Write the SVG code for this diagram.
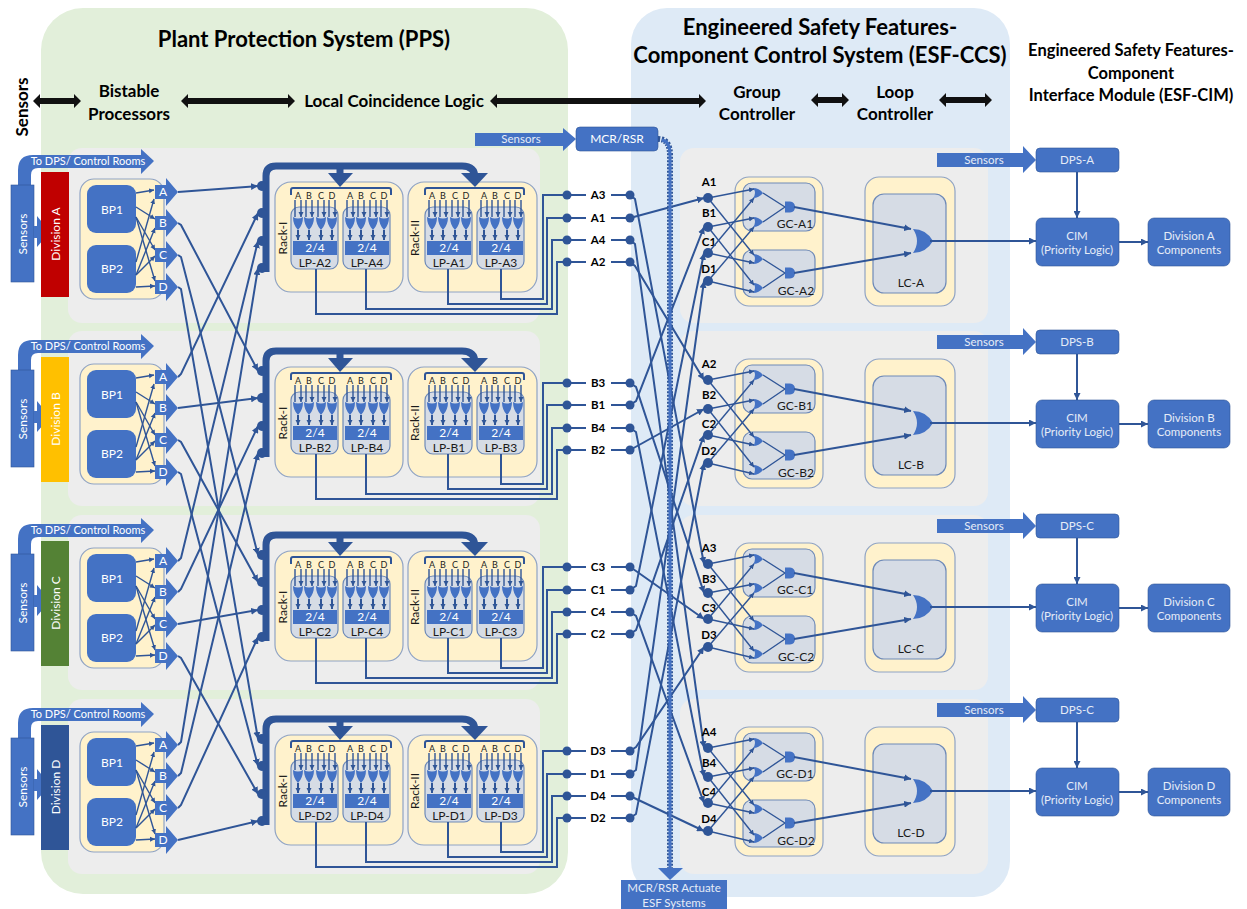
<svg xmlns="http://www.w3.org/2000/svg" xmlns:xlink="http://www.w3.org/1999/xlink" width="1247" height="909" viewBox="0 0 1247 909">
<style>
text{font-family:Lato,"Liberation Sans",sans-serif;text-anchor:middle;fill:#000}
.h1{font-size:22px;font-weight:700}
.h2{font-size:17px;font-weight:700}
.h3{font-size:16.5px;font-weight:700}
.w{fill:#fff;font-size:12px}
.td{fill:#fff;font-size:11px}
.wm{fill:#e6ecf7;font-size:11.5px}
.l{font-size:12px;fill:#1a1a1a}
.n{font-size:9px;fill:#222}
.b{font-size:11.5px;font-weight:700}
.y{fill:#FFF2CC;stroke:#8FA3C4;stroke-width:1.2}
.g{fill:#D6DCE5;stroke:#6E8AB8;stroke-width:1.2}
.p{fill:#EDEDED}
.f{fill:#4472C4}
.fs{fill:#4472C4;stroke:#2F5597;stroke-width:.6}
.d{fill:#2F5597}
.c{fill:none;stroke:#2F5597;stroke-width:2}
.t{fill:none;stroke:#2F5597;stroke-width:1.4}
.k{fill:#111}
</style>
<defs>
<marker id="a" viewBox="0 0 6 6" refX="6" refY="3" markerWidth="7" markerHeight="7" markerUnits="userSpaceOnUse" orient="auto"><path d="M0 0L6 3L0 6Z" fill="#2F5597"/></marker>
<marker id="s" viewBox="0 0 6 6" refX="6" refY="3" markerWidth="5" markerHeight="6" markerUnits="userSpaceOnUse" orient="auto"><path d="M0 0L6 3L0 6Z" fill="#2F5597"/></marker>
<polygon id="out" class="f" points="-23,-7 -12,-7 -12,-14 0,0 -12,14 -12,7 -23,7"/>
<g id="lg">
<path class="t" d="M-3-7V10M3-7V10" marker-end="url(#s)"/>
<path class="f" d="M-5 10Q0 13 5 10Q5 18 0 23Q-5 18-5 10Z"/>
<path class="c" d="M0 23V33" marker-end="url(#s)"/>
</g>
<g id="lp">
<rect width="47" height="62" rx="8" class="g"/>
<rect x="2" y="34" width="44" height="14" class="f"/>
<use xlink:href="#lg" href="#lg" x="7"/><use xlink:href="#lg" href="#lg" x="18"/><use xlink:href="#lg" href="#lg" x="30"/><use xlink:href="#lg" href="#lg" x="41"/>
</g>
<g id="racks">
<rect x="275" y="182" width="128" height="110" rx="16" class="y"/>
<rect x="408" y="182" width="129" height="110" rx="16" class="y"/>
<path d="M291 195V190Q291 188 293 188H389Q391 188 391 190V195M425 195V190Q425 188 427 188H522Q524 188 524 190V195" fill="none" stroke="#2F5597" stroke-width="2"/>
<path d="M266 272V176Q266 166 276 166H462Q475 166 475 178" fill="none" stroke="#2F5597" stroke-width="7"/>
<path d="M340 166V175" fill="none" stroke="#2F5597" stroke-width="7"/>
<polygon class="d" points="328,173 353,173 340,187"/>
<polygon class="d" points="461,173 488,173 475,187"/>
<circle class="d" cx="262" cy="186" r="5"/><circle class="d" cx="262" cy="213" r="5"/><circle class="d" cx="262" cy="241" r="5"/><circle class="d" cx="262" cy="268" r="5"/>
</g>
<g id="bpbox">
<rect x="80" y="179" width="84" height="120" rx="14" class="y"/>
<rect x="87" y="185" width="49" height="48" rx="9" class="f"/>
<rect x="87" y="245" width="49" height="48" rx="9" class="f"/>
<path class="t" d="M136 193L154 190" marker-end="url(#s)"/><path class="t" d="M136 207L155 219" marker-end="url(#s)"/><path class="t" d="M136 217L155 250" marker-end="url(#s)"/><path class="t" d="M136 217L155 281" marker-end="url(#s)"/>
<path class="t" d="M136 262L154 199" marker-end="url(#s)"/><path class="t" d="M136 275L155 228" marker-end="url(#s)"/><path class="t" d="M136 275L155 256" marker-end="url(#s)"/><path class="t" d="M136 287L155 286" marker-end="url(#s)"/>
<use xlink:href="#out" href="#out" x="178" y="192"/><use xlink:href="#out" href="#out" x="178" y="223"/><use xlink:href="#out" href="#out" x="178" y="255"/><use xlink:href="#out" href="#out" x="178" y="287"/>
</g>
<g id="sens">
<path class="f" d="M18 186V170Q18 155 33 155H141V149L154 161L141 174V168H38Q31 168 31 175V186Z"/>
<rect x="11" y="185" width="23" height="97" class="f" stroke="#2F5597" stroke-width=".6"/>
<polygon class="f" points="34,226 37,226 37,216 50,232 37,247 37,238 34,238"/>
</g>
<g id="esfbox">
<rect x="735" y="177" width="88" height="129" rx="14" class="y"/>
<rect x="743" y="183" width="72" height="48" rx="9" class="g"/>
<rect x="743" y="250" width="72" height="47" rx="9" class="g"/>
<rect x="865" y="177" width="90" height="129" rx="14" class="y"/>
<rect x="873" y="194" width="73" height="99" rx="11" class="g"/>
</g>
<g id="gates">
<path class="f" d="M753 188Q759 188 763 193Q759 198 753 198Q757 193 753 188Z"/>
<path class="f" d="M753 217Q759 217 763 222Q759 227 753 227Q757 222 753 217Z"/>
<path class="f" d="M753 254Q759 254 763 259Q759 264 753 264Q757 259 753 254Z"/>
<path class="f" d="M753 283Q759 283 763 288Q759 293 753 293Q757 288 753 283Z"/>
<path class="f" d="M785 201.500H790Q795 202 795 207Q795 212 790 212.500H785Z"/>
<path class="f" d="M785 267.500H790Q795 268 795 273Q795 278 790 278.500H785Z"/>
<path class="f" d="M913 229Q926 229 933 241Q926 253 913 253Q921 241 913 229Z"/>
</g>
<g id="gcw">
<path class="t" d="M708 198L754 189" marker-end="url(#s)"/><path class="t" d="M708 198L754 255" marker-end="url(#s)"/>
<path class="t" d="M708 227L754 218" marker-end="url(#s)"/><path class="t" d="M708 227L754 285" marker-end="url(#s)"/>
<path class="t" d="M708 253L754 198" marker-end="url(#s)"/><path class="t" d="M708 253L754 263" marker-end="url(#s)"/>
<path class="t" d="M708 281L754 227" marker-end="url(#s)"/><path class="t" d="M708 281L754 292" marker-end="url(#s)"/>
<path class="t" d="M763 193L785 207M763 222L785 207M763 259L785 273M763 288L785 273"/>
<path class="c" d="M794 207L911 229" marker-end="url(#a)"/><path class="c" d="M794 273L911 253" marker-end="url(#a)"/>
<path class="c" d="M930 241H1036" marker-end="url(#a)"/>
<path class="c" d="M1119 242H1148" marker-end="url(#a)"/>
<path class="c" d="M1077 172V218" stroke-width="2.400" marker-end="url(#a)"/>
</g>
<g id="cimbox">
<polygon class="f" points="937,153 1023,153 1023,146 1036,160 1023,173 1023,167 937,167"/>
<rect x="1036" y="148" width="83" height="24" rx="4" class="fs"/>
<rect x="1036" y="218" width="83" height="48" rx="6" class="fs"/>
<rect x="1148" y="218" width="82" height="48" rx="6" class="fs"/>
</g>
</defs>
<rect width="1247" height="909" fill="#fff"/>
<g id="regions">
<rect x="41" y="8" width="527" height="886" rx="42" fill="#E2EFDA"/>
<rect x="631" y="8" width="379" height="889" rx="36" fill="#DEEAF6"/>
<rect class="p" x="68" y="148" width="472" height="175" rx="14"/>
<rect class="p" x="68" y="331" width="472" height="175" rx="14"/>
<rect class="p" x="68" y="515" width="472" height="175" rx="14"/>
<rect class="p" x="68" y="699" width="472" height="175" rx="14"/>
<rect class="p" x="680" y="148" width="308" height="175" rx="14"/>
<rect class="p" x="680" y="331" width="308" height="175" rx="14"/>
<rect class="p" x="680" y="515" width="308" height="175" rx="14"/>
<rect class="p" x="680" y="699" width="308" height="175" rx="14"/>
</g>
<g id="headers">
<text class="h1" x="304" y="47">Plant Protection System (PPS)</text>
<text class="h1" x="820" y="35">Engineered Safety Features-</text>
<text class="h1" x="820" y="63">Component Control System (ESF-CCS)</text>
<text class="h3" x="1131" y="56">Engineered Safety Features-</text>
<text class="h3" x="1131" y="79">Component</text>
<text class="h3" x="1131" y="101">Interface Module (ESF-CIM)</text>
<text class="h2" transform="translate(28,107) rotate(-90)">Sensors</text>
<text class="h2" x="129" y="97">Bistable</text>
<text class="h2" x="129" y="120">Processors</text>
<text class="h2" x="394" y="107">Local Coincidence Logic</text>
<text class="h2" x="757" y="98">Group</text>
<text class="h2" x="757" y="120">Controller</text>
<text class="h2" x="895" y="98">Loop</text>
<text class="h2" x="895" y="120">Controller</text>
<polygon class="k" points="33,101 40,94 40,98 74,98 74,94 81,101 74,108 74,104 40,104 40,108"/>
<polygon class="k" points="181,101 188,94 188,98 288,98 288,94 295,101 288,108 288,104 188,104 188,108"/>
<polygon class="k" points="490,101 497,94 497,98 699,98 699,94 706,101 699,108 699,104 497,104 497,108"/>
<polygon class="k" points="811,100 818,93 818,97 842,97 842,93 849,100 842,107 842,103 818,103 818,107"/>
<polygon class="k" points="939,100 946,93 946,97 985,97 985,93 992,100 985,107 985,103 946,103 946,107"/>
</g>
<g id="connectors">
<path class="c" d="M178 192L258 186" marker-end="url(#a)"/>
<path class="c" d="M178 223L181 225L258 371" marker-end="url(#a)"/>
<path class="c" d="M178 255L181 257L258 555" marker-end="url(#a)"/>
<path class="c" d="M178 287L181 289L258 739" marker-end="url(#a)"/>
<path class="c" d="M178 377L181 374L258 213" marker-end="url(#a)"/>
<path class="c" d="M178 408L258 398" marker-end="url(#a)"/>
<path class="c" d="M178 440L181 442L258 582" marker-end="url(#a)"/>
<path class="c" d="M178 472L181 474L258 766" marker-end="url(#a)"/>
<path class="c" d="M178 561L181 558L258 241" marker-end="url(#a)"/>
<path class="c" d="M178 592L181 589L258 426" marker-end="url(#a)"/>
<path class="c" d="M178 624L258 610" marker-end="url(#a)"/>
<path class="c" d="M178 656L181 658L258 794" marker-end="url(#a)"/>
<path class="c" d="M178 745L181 742L258 268" marker-end="url(#a)"/>
<path class="c" d="M178 776L181 773L258 453" marker-end="url(#a)"/>
<path class="c" d="M178 808L181 805L258 637" marker-end="url(#a)"/>
<path class="c" d="M178 840L258 821" marker-end="url(#a)"/>
<path class="c" d="M567 195H586M611 195H630M567 218H586M611 218H630M567 240H586M611 240H630M567 262H586M611 262H630"/>
<path class="c" d="M567 383H586M611 383H630M567 405H586M611 405H630M567 428H586M611 428H630M567 450H586M611 450H630"/>
<path class="c" d="M567 567H586M611 567H630M567 590H586M611 590H630M567 612H586M611 612H630M567 634H586M611 634H630"/>
<path class="c" d="M567 751H586M611 751H630M567 774H586M611 774H630M567 796H586M611 796H630M567 818H586M611 818H630"/>
<path class="c" d="M630 195L635 199L704 564" marker-end="url(#a)"/>
<path class="c" d="M630 218L704 198" marker-end="url(#a)"/>
<path class="c" d="M630 240L635 244L704 748" marker-end="url(#a)"/>
<path class="c" d="M630 262L635 266L704 380" marker-end="url(#a)"/>
<path class="c" d="M630 383L636 387L704 593" marker-end="url(#a)"/>
<path class="c" d="M630 405L636 401L704 227" marker-end="url(#a)"/>
<path class="c" d="M630 428L636 432L704 777" marker-end="url(#a)"/>
<path class="c" d="M630 450L704 409" marker-end="url(#a)"/>
<path class="c" d="M630 567L636 571L704 619" marker-end="url(#a)"/>
<path class="c" d="M630 590L636 586L704 253" marker-end="url(#a)"/>
<path class="c" d="M630 612L636 616L704 803" marker-end="url(#a)"/>
<path class="c" d="M630 634L636 630L704 435" marker-end="url(#a)"/>
<path class="c" d="M630 751L636 747L704 647" marker-end="url(#a)"/>
<path class="c" d="M630 774L636 770L704 281" marker-end="url(#a)"/>
<path class="c" d="M630 796L704 831" marker-end="url(#a)"/>
<path class="c" d="M630 818L636 814L704 463" marker-end="url(#a)"/>
<path d="M658 139Q670 139 670 155V870" fill="none" stroke="#2F5597" stroke-width="6" stroke-dasharray="2 1.500"/>
<path d="M662 140Q670 141 670 155V870" fill="none" stroke="#4472C4" stroke-width="3"/>
<polygon class="f" points="658,868 683,868 670,880"/>
</g>
<g id="mcr">
<polygon class="f" points="475,133 563,133 563,128 576,139 563,151 563,146 475,146"/>
<text class="wm" x="521" y="143">Sensors</text>
<rect x="576" y="127" width="82" height="24" rx="4" class="fs"/>
<text class="w" x="617" y="143">MCR/RSR</text>
</g>
<g id="mcr-actuate">
<rect x="621" y="880" width="106" height="29" class="f"/>
<text class="wm" x="674" y="892">MCR/RSR Actuate</text>
<text class="wm" x="674" y="907">ESF Systems</text>
</g>
<g id="division-a">
<use xlink:href="#sens" href="#sens"/>
<rect x="41" y="172" width="28" height="125" fill="#C00000"/>
<text class="td" x="88" y="165">To DPS/ Control Rooms</text>
<text class="w" transform="translate(27,234) rotate(-90)">Sensors</text>
<text class="w" transform="translate(60,234) rotate(-90)">Division A</text>
<use xlink:href="#bpbox" href="#bpbox"/>
<text class="w" x="112" y="214">BP1</text><text class="w" x="112" y="273">BP2</text>
<text class="w" x="163" y="196">A</text><text class="w" x="163" y="227">B</text><text class="w" x="163" y="259">C</text><text class="w" x="163" y="291">D</text>
<use xlink:href="#racks" href="#racks"/>
<text class="l" transform="translate(287,238) rotate(-90)">Rack-I</text><text class="l" transform="translate(419,238) rotate(-90)">Rack-II</text>
<g id="lp-a2" transform="translate(291,207)"><use xlink:href="#lp" href="#lp"/><text class="n" x="7" y="-8">A</text><text class="n" x="18" y="-8">B</text><text class="n" x="30" y="-8">C</text><text class="n" x="41" y="-8">D</text><text class="w" x="24" y="45">2/4</text><text class="l" x="24" y="60">LP-A2</text></g>
<g id="lp-a4" transform="translate(343,207)"><use xlink:href="#lp" href="#lp"/><text class="n" x="7" y="-8">A</text><text class="n" x="18" y="-8">B</text><text class="n" x="30" y="-8">C</text><text class="n" x="41" y="-8">D</text><text class="w" x="24" y="45">2/4</text><text class="l" x="24" y="60">LP-A4</text></g>
<g id="lp-a1" transform="translate(425,207)"><use xlink:href="#lp" href="#lp"/><text class="n" x="7" y="-8">A</text><text class="n" x="18" y="-8">B</text><text class="n" x="30" y="-8">C</text><text class="n" x="41" y="-8">D</text><text class="w" x="24" y="45">2/4</text><text class="l" x="24" y="60">LP-A1</text></g>
<g id="lp-a3" transform="translate(477,207)"><use xlink:href="#lp" href="#lp"/><text class="n" x="7" y="-8">A</text><text class="n" x="18" y="-8">B</text><text class="n" x="30" y="-8">C</text><text class="n" x="41" y="-8">D</text><text class="w" x="24" y="45">2/4</text><text class="l" x="24" y="60">LP-A3</text></g>
</g>
<g id="division-b" transform="translate(0,185)">
<use xlink:href="#sens" href="#sens"/>
<rect x="41" y="172" width="28" height="125" fill="#FFC000"/>
<text class="td" x="88" y="165">To DPS/ Control Rooms</text>
<text class="w" transform="translate(27,234) rotate(-90)">Sensors</text>
<text class="w" transform="translate(60,234) rotate(-90)">Division B</text>
<use xlink:href="#bpbox" href="#bpbox"/>
<text class="w" x="112" y="214">BP1</text><text class="w" x="112" y="273">BP2</text>
<text class="w" x="163" y="196">A</text><text class="w" x="163" y="227">B</text><text class="w" x="163" y="259">C</text><text class="w" x="163" y="291">D</text>
<use xlink:href="#racks" href="#racks"/>
<text class="l" transform="translate(287,238) rotate(-90)">Rack-I</text><text class="l" transform="translate(419,238) rotate(-90)">Rack-II</text>
<g id="lp-b2" transform="translate(291,207)"><use xlink:href="#lp" href="#lp"/><text class="n" x="7" y="-8">A</text><text class="n" x="18" y="-8">B</text><text class="n" x="30" y="-8">C</text><text class="n" x="41" y="-8">D</text><text class="w" x="24" y="45">2/4</text><text class="l" x="24" y="60">LP-B2</text></g>
<g id="lp-b4" transform="translate(343,207)"><use xlink:href="#lp" href="#lp"/><text class="n" x="7" y="-8">A</text><text class="n" x="18" y="-8">B</text><text class="n" x="30" y="-8">C</text><text class="n" x="41" y="-8">D</text><text class="w" x="24" y="45">2/4</text><text class="l" x="24" y="60">LP-B4</text></g>
<g id="lp-b1" transform="translate(425,207)"><use xlink:href="#lp" href="#lp"/><text class="n" x="7" y="-8">A</text><text class="n" x="18" y="-8">B</text><text class="n" x="30" y="-8">C</text><text class="n" x="41" y="-8">D</text><text class="w" x="24" y="45">2/4</text><text class="l" x="24" y="60">LP-B1</text></g>
<g id="lp-b3" transform="translate(477,207)"><use xlink:href="#lp" href="#lp"/><text class="n" x="7" y="-8">A</text><text class="n" x="18" y="-8">B</text><text class="n" x="30" y="-8">C</text><text class="n" x="41" y="-8">D</text><text class="w" x="24" y="45">2/4</text><text class="l" x="24" y="60">LP-B3</text></g>
</g>
<g id="division-c" transform="translate(0,369)">
<use xlink:href="#sens" href="#sens"/>
<rect x="41" y="172" width="28" height="125" fill="#548235"/>
<text class="td" x="88" y="165">To DPS/ Control Rooms</text>
<text class="w" transform="translate(27,234) rotate(-90)">Sensors</text>
<text class="w" transform="translate(60,234) rotate(-90)">Division C</text>
<use xlink:href="#bpbox" href="#bpbox"/>
<text class="w" x="112" y="214">BP1</text><text class="w" x="112" y="273">BP2</text>
<text class="w" x="163" y="196">A</text><text class="w" x="163" y="227">B</text><text class="w" x="163" y="259">C</text><text class="w" x="163" y="291">D</text>
<use xlink:href="#racks" href="#racks"/>
<text class="l" transform="translate(287,238) rotate(-90)">Rack-I</text><text class="l" transform="translate(419,238) rotate(-90)">Rack-II</text>
<g id="lp-c2" transform="translate(291,207)"><use xlink:href="#lp" href="#lp"/><text class="n" x="7" y="-8">A</text><text class="n" x="18" y="-8">B</text><text class="n" x="30" y="-8">C</text><text class="n" x="41" y="-8">D</text><text class="w" x="24" y="45">2/4</text><text class="l" x="24" y="60">LP-C2</text></g>
<g id="lp-c4" transform="translate(343,207)"><use xlink:href="#lp" href="#lp"/><text class="n" x="7" y="-8">A</text><text class="n" x="18" y="-8">B</text><text class="n" x="30" y="-8">C</text><text class="n" x="41" y="-8">D</text><text class="w" x="24" y="45">2/4</text><text class="l" x="24" y="60">LP-C4</text></g>
<g id="lp-c1" transform="translate(425,207)"><use xlink:href="#lp" href="#lp"/><text class="n" x="7" y="-8">A</text><text class="n" x="18" y="-8">B</text><text class="n" x="30" y="-8">C</text><text class="n" x="41" y="-8">D</text><text class="w" x="24" y="45">2/4</text><text class="l" x="24" y="60">LP-C1</text></g>
<g id="lp-c3" transform="translate(477,207)"><use xlink:href="#lp" href="#lp"/><text class="n" x="7" y="-8">A</text><text class="n" x="18" y="-8">B</text><text class="n" x="30" y="-8">C</text><text class="n" x="41" y="-8">D</text><text class="w" x="24" y="45">2/4</text><text class="l" x="24" y="60">LP-C3</text></g>
</g>
<g id="division-d" transform="translate(0,553)">
<use xlink:href="#sens" href="#sens"/>
<rect x="41" y="172" width="28" height="125" fill="#2F5597"/>
<text class="td" x="88" y="165">To DPS/ Control Rooms</text>
<text class="w" transform="translate(27,234) rotate(-90)">Sensors</text>
<text class="w" transform="translate(60,234) rotate(-90)">Division D</text>
<use xlink:href="#bpbox" href="#bpbox"/>
<text class="w" x="112" y="214">BP1</text><text class="w" x="112" y="273">BP2</text>
<text class="w" x="163" y="196">A</text><text class="w" x="163" y="227">B</text><text class="w" x="163" y="259">C</text><text class="w" x="163" y="291">D</text>
<use xlink:href="#racks" href="#racks"/>
<text class="l" transform="translate(287,238) rotate(-90)">Rack-I</text><text class="l" transform="translate(419,238) rotate(-90)">Rack-II</text>
<g id="lp-d2" transform="translate(291,207)"><use xlink:href="#lp" href="#lp"/><text class="n" x="7" y="-8">A</text><text class="n" x="18" y="-8">B</text><text class="n" x="30" y="-8">C</text><text class="n" x="41" y="-8">D</text><text class="w" x="24" y="45">2/4</text><text class="l" x="24" y="60">LP-D2</text></g>
<g id="lp-d4" transform="translate(343,207)"><use xlink:href="#lp" href="#lp"/><text class="n" x="7" y="-8">A</text><text class="n" x="18" y="-8">B</text><text class="n" x="30" y="-8">C</text><text class="n" x="41" y="-8">D</text><text class="w" x="24" y="45">2/4</text><text class="l" x="24" y="60">LP-D4</text></g>
<g id="lp-d1" transform="translate(425,207)"><use xlink:href="#lp" href="#lp"/><text class="n" x="7" y="-8">A</text><text class="n" x="18" y="-8">B</text><text class="n" x="30" y="-8">C</text><text class="n" x="41" y="-8">D</text><text class="w" x="24" y="45">2/4</text><text class="l" x="24" y="60">LP-D1</text></g>
<g id="lp-d3" transform="translate(477,207)"><use xlink:href="#lp" href="#lp"/><text class="n" x="7" y="-8">A</text><text class="n" x="18" y="-8">B</text><text class="n" x="30" y="-8">C</text><text class="n" x="41" y="-8">D</text><text class="w" x="24" y="45">2/4</text><text class="l" x="24" y="60">LP-D3</text></g>
</g>
<g id="lp-output-connectors">
<path class="c" d="M501 269V299H543V195H567M448 269V304H547V218H567M366 269V309H552V240H567M316 269V314H557V262H567"/>
<path class="c" d="M501 454V484H543V383H567M448 454V489H547V405H567M366 454V494H552V428H567M316 454V499H557V450H567"/>
<path class="c" d="M501 638V668H543V567H567M448 638V673H547V590H567M366 638V678H552V612H567M316 638V683H557V634H567"/>
<path class="c" d="M501 822V852H543V751H567M448 822V857H547V774H567M366 822V862H552V796H567M316 822V867H557V818H567"/>
</g>
<g id="signals-a" class="d">
<circle cx="567" cy="195" r="4.500"/><circle cx="630" cy="195" r="4.500"/><circle cx="567" cy="218" r="4.500"/><circle cx="630" cy="218" r="4.500"/><circle cx="567" cy="240" r="4.500"/><circle cx="630" cy="240" r="4.500"/><circle cx="567" cy="262" r="4.500"/><circle cx="630" cy="262" r="4.500"/>
<text class="b" x="598" y="199">A3</text><text class="b" x="598" y="222">A1</text><text class="b" x="598" y="244">A4</text><text class="b" x="598" y="266">A2</text>
</g>
<g id="signals-b" class="d">
<circle cx="567" cy="383" r="4.500"/><circle cx="630" cy="383" r="4.500"/><circle cx="567" cy="405" r="4.500"/><circle cx="630" cy="405" r="4.500"/><circle cx="567" cy="428" r="4.500"/><circle cx="630" cy="428" r="4.500"/><circle cx="567" cy="450" r="4.500"/><circle cx="630" cy="450" r="4.500"/>
<text class="b" x="598" y="387">B3</text><text class="b" x="598" y="409">B1</text><text class="b" x="598" y="432">B4</text><text class="b" x="598" y="454">B2</text>
</g>
<g id="signals-c" class="d">
<circle cx="567" cy="567" r="4.500"/><circle cx="630" cy="567" r="4.500"/><circle cx="567" cy="590" r="4.500"/><circle cx="630" cy="590" r="4.500"/><circle cx="567" cy="612" r="4.500"/><circle cx="630" cy="612" r="4.500"/><circle cx="567" cy="634" r="4.500"/><circle cx="630" cy="634" r="4.500"/>
<text class="b" x="598" y="571">C3</text><text class="b" x="598" y="594">C1</text><text class="b" x="598" y="616">C4</text><text class="b" x="598" y="638">C2</text>
</g>
<g id="signals-d" class="d">
<circle cx="567" cy="751" r="4.500"/><circle cx="630" cy="751" r="4.500"/><circle cx="567" cy="774" r="4.500"/><circle cx="630" cy="774" r="4.500"/><circle cx="567" cy="796" r="4.500"/><circle cx="630" cy="796" r="4.500"/><circle cx="567" cy="818" r="4.500"/><circle cx="630" cy="818" r="4.500"/>
<text class="b" x="598" y="755">D3</text><text class="b" x="598" y="778">D1</text><text class="b" x="598" y="800">D4</text><text class="b" x="598" y="822">D2</text>
</g>
<g id="esf-a">
<use xlink:href="#esfbox" href="#esfbox"/>
<use xlink:href="#gates" href="#gates"/>
<g class="d"><circle cx="708" cy="198" r="5"/><circle cx="708" cy="227" r="5"/><circle cx="708" cy="253" r="5"/><circle cx="708" cy="281" r="5"/></g>
<text class="b" x="709" y="186">A1</text><text class="b" x="709" y="217">B1</text><text class="b" x="709" y="246">C1</text><text class="b" x="709" y="273">D1</text>
<text class="l" x="795" y="228">GC-A1</text><text class="l" x="796" y="295">GC-A2</text><text class="l" x="911" y="287">LC-A</text>
</g>
<g id="esf-b" transform="translate(0,182)">
<use xlink:href="#esfbox" href="#esfbox"/>
<use xlink:href="#gates" href="#gates"/>
<g class="d"><circle cx="708" cy="198" r="5"/><circle cx="708" cy="227" r="5"/><circle cx="708" cy="253" r="5"/><circle cx="708" cy="281" r="5"/></g>
<text class="b" x="709" y="186">A2</text><text class="b" x="709" y="217">B2</text><text class="b" x="709" y="246">C2</text><text class="b" x="709" y="273">D2</text>
<text class="l" x="795" y="228">GC-B1</text><text class="l" x="796" y="295">GC-B2</text><text class="l" x="911" y="287">LC-B</text>
</g>
<g id="esf-c" transform="translate(0,366)">
<use xlink:href="#esfbox" href="#esfbox"/>
<use xlink:href="#gates" href="#gates"/>
<g class="d"><circle cx="708" cy="198" r="5"/><circle cx="708" cy="227" r="5"/><circle cx="708" cy="253" r="5"/><circle cx="708" cy="281" r="5"/></g>
<text class="b" x="709" y="186">A3</text><text class="b" x="709" y="217">B3</text><text class="b" x="709" y="246">C3</text><text class="b" x="709" y="273">D3</text>
<text class="l" x="795" y="228">GC-C1</text><text class="l" x="796" y="295">GC-C2</text><text class="l" x="911" y="287">LC-C</text>
</g>
<g id="esf-d" transform="translate(0,550)">
<use xlink:href="#esfbox" href="#esfbox"/>
<use xlink:href="#gates" href="#gates"/>
<g class="d"><circle cx="708" cy="198" r="5"/><circle cx="708" cy="227" r="5"/><circle cx="708" cy="253" r="5"/><circle cx="708" cy="281" r="5"/></g>
<text class="b" x="709" y="186">A4</text><text class="b" x="709" y="217">B4</text><text class="b" x="709" y="246">C4</text><text class="b" x="709" y="273">D4</text>
<text class="l" x="795" y="228">GC-D1</text><text class="l" x="796" y="295">GC-D2</text><text class="l" x="911" y="287">LC-D</text>
</g>
<g id="cim-a">
<use xlink:href="#cimbox" href="#cimbox"/>
<text class="wm" x="984" y="164">Sensors</text><text class="wm" x="1077" y="164">DPS-A</text>
<text class="wm" x="1077" y="240">CIM</text><text class="wm" x="1077" y="254">(Priority Logic)</text>
<text class="wm" x="1189" y="240">Division A</text><text class="wm" x="1189" y="254">Components</text>
</g>
<g id="cim-b" transform="translate(0,182)">
<use xlink:href="#cimbox" href="#cimbox"/>
<text class="wm" x="984" y="164">Sensors</text><text class="wm" x="1077" y="164">DPS-B</text>
<text class="wm" x="1077" y="240">CIM</text><text class="wm" x="1077" y="254">(Priority Logic)</text>
<text class="wm" x="1189" y="240">Division B</text><text class="wm" x="1189" y="254">Components</text>
</g>
<g id="cim-c" transform="translate(0,366)">
<use xlink:href="#cimbox" href="#cimbox"/>
<text class="wm" x="984" y="164">Sensors</text><text class="wm" x="1077" y="164">DPS-C</text>
<text class="wm" x="1077" y="240">CIM</text><text class="wm" x="1077" y="254">(Priority Logic)</text>
<text class="wm" x="1189" y="240">Division C</text><text class="wm" x="1189" y="254">Components</text>
</g>
<g id="cim-d" transform="translate(0,550)">
<use xlink:href="#cimbox" href="#cimbox"/>
<text class="wm" x="984" y="164">Sensors</text><text class="wm" x="1077" y="164">DPS-C</text>
<text class="wm" x="1077" y="240">CIM</text><text class="wm" x="1077" y="254">(Priority Logic)</text>
<text class="wm" x="1189" y="240">Division D</text><text class="wm" x="1189" y="254">Components</text>
</g>
<g id="gate-connectors">
<use xlink:href="#gcw" href="#gcw"/>
<use xlink:href="#gcw" href="#gcw" y="182"/>
<use xlink:href="#gcw" href="#gcw" y="366"/>
<use xlink:href="#gcw" href="#gcw" y="550"/>
</g>
</svg>
